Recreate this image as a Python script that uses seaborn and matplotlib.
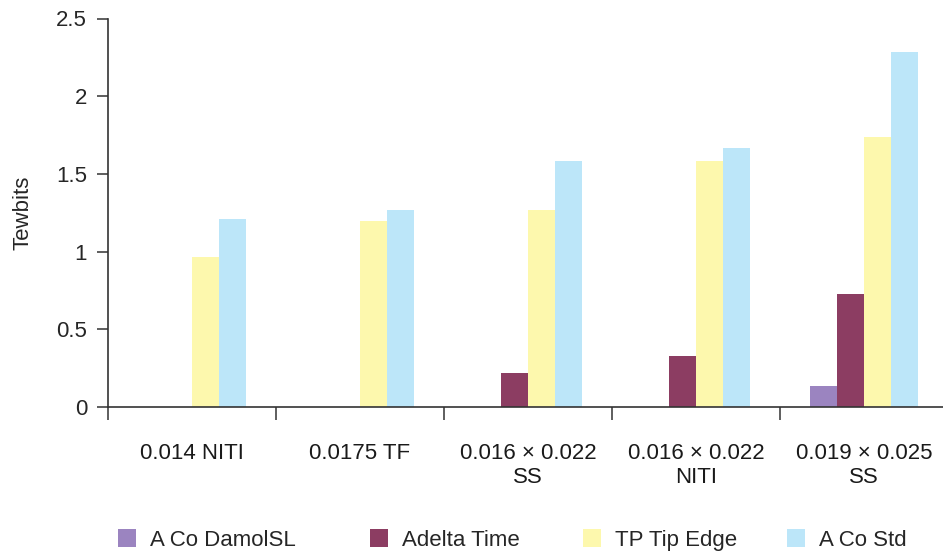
import matplotlib
matplotlib.use("Agg")
import matplotlib.pyplot as plt
import seaborn as sns
import pandas as pd
import numpy as np
from matplotlib.ticker import FixedLocator

# values
categories = ["0.014 NITI", "0.0175 TF", "0.016 \u00d7 0.022\nSS",
              "0.016 \u00d7 0.022\nNITI", "0.019 \u00d7 0.025\nSS"]
series = ["A Co DamolSL", "Adelta Time", "TP Tip Edge", "A Co Std"]
damolsl = [0.0, 0.0, 0.0, 0.0, 0.133]
adelta = [0.0, 0.0, 0.22, 0.33, 0.73]
tip_edge = [0.965, 1.20, 1.27, 1.58, 1.74]
co_std = [1.21, 1.27, 1.58, 1.665, 2.285]
colors = ["#9b84c0", "#8c3d62", "#fdf8ad", "#bce6f9"]

rows = []
for name, vals in zip(series, [damolsl, adelta, tip_edge, co_std]):
    for cat, v in zip(categories, vals):
        rows.append({"group": cat, "series": name, "value": v})
df = pd.DataFrame(rows)

sns.set_style("white")
plt.rcParams["font.family"] = ["Liberation Sans", "DejaVu Sans"]

fig = plt.figure(figsize=(9.43, 5.51), dpi=100)
ax = fig.add_axes([108 / 943, 144 / 551, 840 / 943, 388.5 / 551])

sns.barplot(data=df, x="group", y="value", hue="series", order=categories,
            hue_order=series, palette=colors, width=0.64, linewidth=0,
            saturation=1, ax=ax, legend=True)

ax.set_xlim(-0.5, 4.5)
ax.set_ylim(0, 2.5)
ax.set_yticks([0, 0.5, 1, 1.5, 2, 2.5])
ax.set_yticklabels(["0", "0.5", "1", "1.5", "2", "2.5"])
ax.set_xlabel("")
ax.set_ylabel("Tewbits", fontsize=16, labelpad=16)

for s in ["top", "right"]:
    ax.spines[s].set_visible(False)
for s in ["left", "bottom"]:
    ax.spines[s].set_color("#333333")
    ax.spines[s].set_linewidth(1.2)

ax.tick_params(axis="y", direction="out", length=8, width=1.1,
               color="#333333", labelsize=16, pad=7, left=True)
ax.tick_params(axis="x", which="major", length=0, pad=26, labelsize=16,
               labelcolor="#1a1a1a")
ax.xaxis.set_minor_locator(FixedLocator(np.arange(-0.5, 4.6, 1.0)))
ax.tick_params(axis="x", which="minor", direction="out", length=9,
               width=1.1, color="#333333", bottom=True)

handles, labels = ax.get_legend_handles_labels()
ax.get_legend().remove()
# one legend entry per slot, placed like the reference
legend_x = [118, 370, 583, 787]
for h, lab, x in zip(handles, labels, legend_x):
    leg = fig.legend([h], [lab], loc="center left",
                     bbox_to_anchor=(x / 943, 1 - 540 / 551), frameon=False,
                     fontsize=16, handlelength=0.82, handleheight=0.82,
                     handletextpad=0.64, borderpad=0, borderaxespad=0)

fig.savefig("out.png", dpi=100)
